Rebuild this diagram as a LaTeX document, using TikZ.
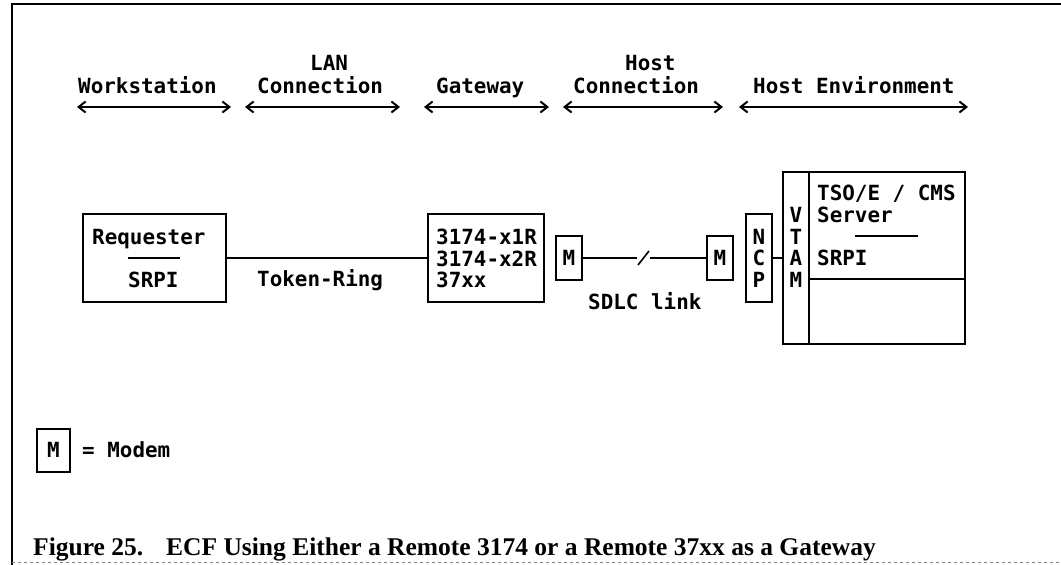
\documentclass[tikz,border=0pt]{standalone}
\usepackage{fontspec}
\newfontfamily\dmono{DejaVu Sans Mono}
\newfontfamily\dserif{Liberation Serif}
\usetikzlibrary{arrows.meta}
\newcommand\dfont{\dmono\bfseries\fontsize{20.9}{22}\selectfont}
\newcommand\cfont{\dserif\bfseries\fontsize{25.5}{28}\selectfont}
\tikzset{
  box/.style={draw, line width=2pt, inner sep=0pt, outer sep=0pt},
  txt/.style={font=\dfont, inner sep=0pt, anchor=base west},
  ctxt/.style={font=\dfont, inner sep=0pt, anchor=base},
  conn/.style={line width=1.6pt},
  frameline/.style={line width=2pt},
  span/.style={line width=1.6pt, {Straight Barb[length=7pt,width=11pt,line width=2pt]}-{Straight Barb[length=7pt,width=11pt,line width=2pt]}},
}
\begin{document}
\begin{tikzpicture}[x=1pt,y=-1pt]
\useasboundingbox (0,0) rectangle (1061,565);
% frame
\draw[frameline] (12,565) -- (12,4) -- (1061,4);
\draw[gray, dashed, line width=1pt] (12,562) -- (1061,562);

% headers
\node[txt] (hws) at (78,93) {Workstation};
\node[txt] (hlan1) at (310,70) {LAN};
\node[txt] (hlan2) at (257,93) {Connection};
\node[txt] (hgw) at (436,93) {Gateway};
\node[txt] (hhc1) at (625,70) {Host};
\node[txt] (hhc2) at (573,93) {Connection};
\node[txt] (hhe) at (753,93) {Host Environment};

\coordinate (a1l) at (77,107);  \coordinate (a1r) at (231,107);
\coordinate (a2l) at (245,107); \coordinate (a2r) at (400,107);
\coordinate (a3l) at (424,107); \coordinate (a3r) at (549,107);
\coordinate (a4l) at (563,107); \coordinate (a4r) at (723,107);
\coordinate (a5l) at (739,107); \coordinate (a5r) at (968,107);
\draw[span] (a1l) -- (a1r);
\draw[span] (a2l) -- (a2r);
\draw[span] (a3l) -- (a3r);
\draw[span] (a4l) -- (a4r);
\draw[span] (a5l) -- (a5r);

% requester
\node[box, minimum width=143pt, minimum height=88pt] (req) at (154.5,258) {};
\node[txt] (reqt) at (92,244) {Requester};
\coordinate (rl1) at (128,258); \coordinate (rl2) at (180,258);
\draw[conn] (rl1) -- (rl2);
\node[txt] (reqs) at (128,287) {SRPI};

% gateway
\node[box, minimum width=116pt, minimum height=88pt] (gw) at (486,258) {};
\node[txt] (gw1) at (436,244) {3174-x1R};
\node[txt] (gw2) at (436,266) {3174-x2R};
\node[txt] (gw3) at (436,287) {37xx};

\draw[conn] (req.east) -- (gw.west);
\node[txt] (tr) at (257,286) {Token-Ring};

% modems
\node[box, minimum width=26pt, minimum height=44pt] (m1) at (569,258) {};
\node[ctxt] at (569,265) {M};
\node[box, minimum width=26pt, minimum height=44pt] (m2) at (720,258) {};
\node[ctxt] at (720,265) {M};
\coordinate (s1) at (637,258); \coordinate (s2) at (650,258);
\coordinate (sa) at (638,265); \coordinate (sb) at (649,251);
\draw[conn] (m1.east) -- (s1);
\draw[conn] (sa) -- (sb);
\draw[conn] (s2) -- (m2.west);
\node[txt] (sdlc) at (588,309) {SDLC link};

% NCP
\node[box, minimum width=26pt, minimum height=88pt] (ncp) at (759,258) {};
\node[ctxt] at (759,244) {N};
\node[ctxt] at (759,265) {C};
\node[ctxt] at (759,287) {P};

% VTAM + TSO
\node[box, minimum width=26pt, minimum height=172pt] (vtam) at (796,258) {};
\node[ctxt] at (796,222) {V};
\node[ctxt] at (796,244) {T};
\node[ctxt] at (796,265) {A};
\node[ctxt] at (796,287) {M};
\node[box, minimum width=156pt, minimum height=107pt] (tsot) at (887,225.5) {};
\node[box, minimum width=156pt, minimum height=65pt] (tsob) at (887,311.5) {};
\node[txt] (tso1) at (817,200) {TSO/E / CMS};
\node[txt] (tso2) at (817,222) {Server};
\coordinate (tl1) at (855,236); \coordinate (tl2) at (918,236);
\draw[conn] (tl1) -- (tl2);
\node[txt] (tso3) at (817,265) {SRPI};
\draw[conn] (ncp.east) -- (ncp.east -| vtam.west);

% legend
\node[box, minimum width=33pt, minimum height=43pt] (lm) at (53.5,450.5) {};
\node[ctxt] at (53.5,457) {M};
\node[txt] (lmt) at (82,457) {= Modem};

% caption
\node[font=\cfont, inner sep=0pt, anchor=base west] (cap) at (33,555)
  {Figure 25.\hspace{0.9em}ECF Using Either a Remote 3174 or a Remote 37xx as a Gateway};
\end{tikzpicture}
\end{document}
